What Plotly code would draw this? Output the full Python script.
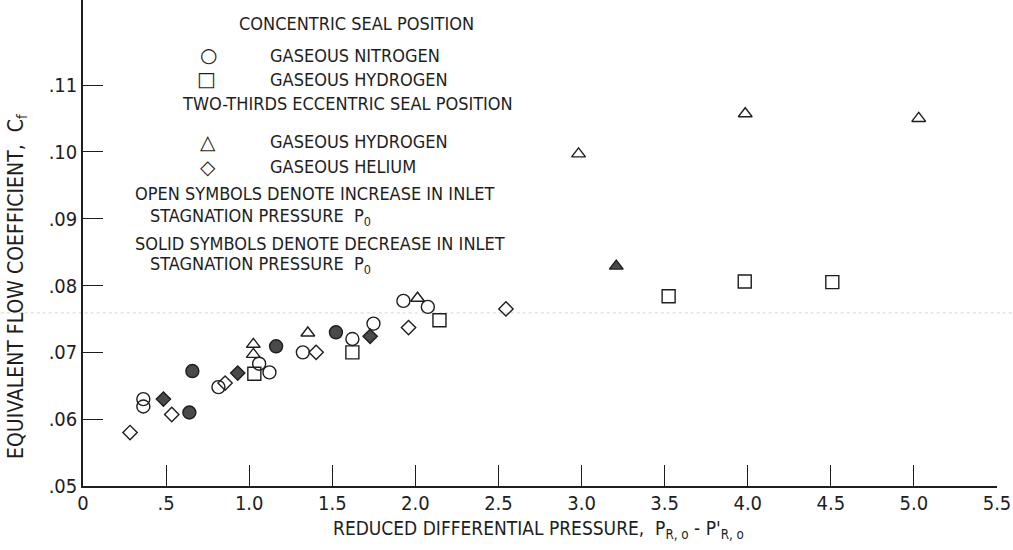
import plotly.graph_objects as go

# Concentric seal position - gaseous nitrogen (open: increasing P0, solid: decreasing P0)
n2_open_x = [0.363, 0.363, 0.815, 1.060, 1.122, 1.323, 1.621, 1.748, 1.928, 2.075]
n2_open_y = [0.0630, 0.0619, 0.0648, 0.0683, 0.0670, 0.0700, 0.0720, 0.0743, 0.0777, 0.0768]
n2_solid_x = [0.640, 0.658, 1.162, 1.522]
n2_solid_y = [0.0610, 0.0672, 0.0709, 0.0730]

# Concentric seal position - gaseous hydrogen
h2c_open_x = [1.031, 1.621, 2.145, 3.524, 3.982, 4.509]
h2c_open_y = [0.0668, 0.0700, 0.0748, 0.0784, 0.0806, 0.0805]

# Two-thirds eccentric seal position - gaseous hydrogen
h2e_open_x = [1.025, 1.025, 1.353, 2.013, 2.982, 3.985, 5.029]
h2e_open_y = [0.0712, 0.0697, 0.0729, 0.0781, 0.0997, 0.1057, 0.1050]
h2e_solid_x = [3.209]
h2e_solid_y = [0.0829]

# Two-thirds eccentric seal position - gaseous helium
he_open_x = [0.283, 0.534, 0.855, 1.403, 1.959, 2.545]
he_open_y = [0.0580, 0.0607, 0.0654, 0.0700, 0.0737, 0.0765]
he_solid_x = [0.484, 0.931, 1.728]
he_solid_y = [0.0630, 0.0669, 0.0724]

x_tick_vals = [0, 0.5, 1.0, 1.5, 2.0, 2.5, 3.0, 3.5, 4.0, 4.5, 5.0, 5.5]
x_tick_text = ["0", ".5", "1.0", "1.5", "2.0", "2.5", "3.0", "3.5", "4.0", "4.5", "5.0", "5.5"]
y_tick_vals = [0.05, 0.06, 0.07, 0.08, 0.09, 0.10, 0.11]
y_tick_text = [".05", ".06", ".07", ".08", ".09", ".10", ".11"]

INK = "#1e1e1e"
SOLID = "#4a4a4a"
TEXT_FONT = "DejaVu Sans Condensed, DejaVu Sans, sans-serif"
SYMBOL_FONT = "DejaVu Sans, sans-serif"


def series(x, y, symbol, size, filled):
    return go.Scatter(
        x=x, y=y, mode="markers", showlegend=False, hoverinfo="x+y",
        marker=dict(
            symbol=symbol if filled else symbol + "-open",
            size=size,
            color=SOLID if filled else INK,
            line=dict(color=INK, width=1.4),
        ),
    )


fig = go.Figure()
fig.add_trace(series(n2_open_x, n2_open_y, "circle", 13, False))
fig.add_trace(series(n2_solid_x, n2_solid_y, "circle", 13, True))
fig.add_trace(series(h2c_open_x, h2c_open_y, "square", 13, False))
fig.add_trace(series(h2e_open_x, h2e_open_y, "triangle-up", 12, False))
fig.add_trace(series(h2e_solid_x, h2e_solid_y, "triangle-up", 12, True))
fig.add_trace(series(he_open_x, he_open_y, "diamond", 11, False))
fig.add_trace(series(he_solid_x, he_solid_y, "diamond", 11, True))

fig.update_xaxes(
    range=[0, 5.5], tickvals=x_tick_vals, ticktext=x_tick_text,
    ticks="inside", ticklen=21, tickwidth=1.2, tickcolor=INK,
    showline=True, linecolor=INK, linewidth=1.5,
    showgrid=False, zeroline=False, ticklabelstandoff=-2,
    tickfont=dict(family=TEXT_FONT, size=20, color=INK),
)
fig.update_yaxes(
    range=[0.05, 0.12272], tickvals=y_tick_vals, ticktext=y_tick_text,
    ticks="inside", ticklen=20, tickwidth=1.2, tickcolor=INK,
    showline=True, linecolor=INK, linewidth=1.5,
    showgrid=False, zeroline=False,
    tickfont=dict(family=TEXT_FONT, size=20, color=INK),
)

annotations = []


def label(text, x, y, size=18, family=TEXT_FONT, xanchor="left", angle=0, yanchor="middle"):
    annotations.append(dict(
        text=text, x=x, y=y, xref="paper", yref="paper",
        xanchor=xanchor, yanchor=yanchor, showarrow=False, textangle=angle,
        font=dict(family=family, size=size, color=INK),
    ))


# key block
label("CONCENTRIC SEAL POSITION", 0.1682, 0.9520)
label("\u25CB", 0.1371, 0.8868, size=20, family=SYMBOL_FONT, xanchor="center")
label("GASEOUS NITROGEN", 0.2021, 0.8868)
label("\u25A1", 0.1353, 0.8374, size=20, family=SYMBOL_FONT, xanchor="center")
label("GASEOUS HYDROGEN", 0.2021, 0.8374)
label("TWO-THIRDS ECCENTRIC SEAL POSITION", 0.1061, 0.7874)
label("\u25B3", 0.1371, 0.7084, size=20, family=SYMBOL_FONT, xanchor="center")
label("GASEOUS HYDROGEN", 0.2021, 0.7084)
label("\u25C7", 0.1371, 0.6570, size=20, family=SYMBOL_FONT, xanchor="center")
label("GASEOUS HELIUM", 0.2021, 0.6570)
label("OPEN SYMBOLS DENOTE INCREASE IN INLET", 0.0550, 0.6023)
label("STAGNATION PRESSURE  P<sub>0</sub>", 0.0714, 0.5541)
label("SOLID SYMBOLS DENOTE DECREASE IN INLET", 0.0550, 0.4994)
label("STAGNATION PRESSURE  P<sub>0</sub>", 0.0714, 0.4547)

# axis titles
label("REDUCED DIFFERENTIAL PRESSURE,  P<sub>R, o</sub> - P'<sub>R, o</sub>",
      0.4989, -0.060, size=19, xanchor="center", yanchor="top")
label("EQUIVALENT FLOW COEFFICIENT,  C<sub>f</sub>",
      -0.0722, 0.4095, size=21, xanchor="center", angle=-90)

fig.update_layout(
    width=1013, height=550,
    margin=dict(l=83, r=16, t=0, b=64),
    paper_bgcolor="white", plot_bgcolor="white",
    showlegend=False,
    annotations=annotations,
    shapes=[dict(
        type="line", xref="paper", yref="y", x0=-0.09, x1=1.02, y0=0.0759, y1=0.0759,
        line=dict(color="#d4d4d4", width=1, dash="dot"), layer="below",
    )],
)

fig.write_html("out.html", config={"displayModeBar": False})
